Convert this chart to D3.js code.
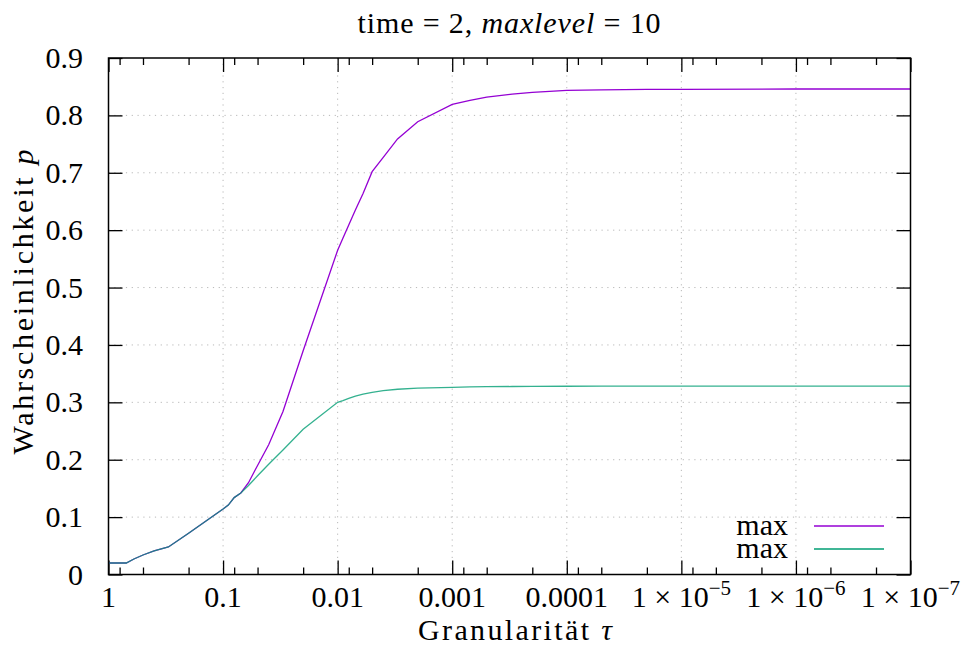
<!DOCTYPE html>
<html>
<head>
<meta charset="utf-8">
<script src="https://cdn.jsdelivr.net/npm/d3@7"></script>
<style>
  body { margin: 0; background: #fff; }
  text { font-family: "Liberation Serif", serif; fill: #000; }
  .axis path { display: none; }
  .axis line { stroke: #000; stroke-width: 1.3; }
  .grid line { stroke: #b8b8b8; stroke-width: 1; stroke-dasharray: 1.2, 4.6; }
</style>
</head>
<body>
<svg id="chart" width="966" height="646"></svg>
<script>
// granularity tau (x) and the two probability series
var tau = [1, 0.9, 0.8, 0.7, 0.6, 0.5, 0.4, 0.3, 0.2, 0.1,
           0.09, 0.08, 0.07, 0.06, 0.05, 0.04, 0.03, 0.02, 0.01,
           0.009, 0.008, 0.007, 0.006, 0.005, 0.004, 0.003, 0.002, 0.001,
           0.0007, 0.0005, 0.0003, 0.0002, 1e-4, 5e-5, 2e-5, 1e-5, 1e-6, 1e-7];
var maxA = [0.020, 0.020, 0.020, 0.020, 0.027, 0.034, 0.041, 0.048, 0.072, 0.114,
            0.121, 0.134, 0.142, 0.160, 0.190, 0.226, 0.284, 0.390, 0.565,
            0.586, 0.609, 0.635, 0.664, 0.702, 0.727, 0.759, 0.789, 0.819,
            0.826, 0.832, 0.837, 0.840, 0.8435, 0.8445, 0.8452, 0.8455, 0.846, 0.846];
var maxB = [0.020, 0.020, 0.020, 0.020, 0.027, 0.034, 0.041, 0.048, 0.072, 0.114,
            0.121, 0.134, 0.142, 0.155, 0.172, 0.192, 0.217, 0.253, 0.300,
            0.303, 0.307, 0.311, 0.3145, 0.3175, 0.3205, 0.3228, 0.3246, 0.3262,
            0.3268, 0.3272, 0.3276, 0.3278, 0.3280, 0.3281, 0.3282, 0.3283, 0.3284, 0.3284];

var xTicks = [1, 0.1, 0.01, 0.001, 1e-4, 1e-5, 1e-6, 1e-7];
var xTickBase = ["1", "0.1", "0.01", "0.001", "0.0001", "1 × 10", "1 × 10", "1 × 10"];
var xTickExp = ["", "", "", "", "", "−5", "−6", "−7"];
var yTicks = [0, 0.1, 0.2, 0.3, 0.4, 0.5, 0.6, 0.7, 0.8, 0.9];
var seriesNames = ["max", "max"];
var seriesColors = ["#9400d3", "#009e73"];

var pLeft = 108.5, pRight = 910.5, pTop = 58, pBottom = 574.5;
var fs = 30;

var svg = d3.select("#chart");

var x = d3.scaleLog().domain([1, 1e-7]).range([pLeft, pRight]);
var y = d3.scaleLinear().domain([0, 0.9]).range([pBottom, pTop]);

// minor ticks at 0.8, 0.5, 0.2 of each decade
var minor = [];
for (var d = 0; d < 7; d++) {
  [0.8, 0.5, 0.2].forEach(function(m) { minor.push(m * Math.pow(10, -d)); });
}

// grid
svg.append("g").attr("class", "grid")
   .selectAll("line").data(xTicks.slice(1, -1)).enter().append("line")
   .attr("x1", d => x(d)).attr("x2", d => x(d))
   .attr("y1", pTop).attr("y2", pBottom);
svg.append("g").attr("class", "grid")
   .selectAll("line").data(yTicks.slice(1, -1)).enter().append("line")
   .attr("x1", pLeft).attr("x2", pRight)
   .attr("y1", d => y(d)).attr("y2", d => y(d));

// ticks on all four sides, pointing inward
var bottomAxis = svg.append("g").attr("class", "axis").attr("transform", "translate(0," + pBottom + ")");
bottomAxis.call(d3.axisTop(x).tickValues(xTicks).tickSize(14).tickFormat(""));
bottomAxis.append("g").call(d3.axisTop(x).tickValues(minor).tickSize(7).tickFormat(""));
var topAxis = svg.append("g").attr("class", "axis").attr("transform", "translate(0," + pTop + ")");
topAxis.call(d3.axisBottom(x).tickValues(xTicks).tickSize(14).tickFormat(""));
topAxis.append("g").call(d3.axisBottom(x).tickValues(minor).tickSize(7).tickFormat(""));
svg.append("g").attr("class", "axis").attr("transform", "translate(" + pLeft + ",0)")
   .call(d3.axisRight(y).tickValues(yTicks).tickSize(14).tickFormat(""));
svg.append("g").attr("class", "axis").attr("transform", "translate(" + pRight + ",0)")
   .call(d3.axisLeft(y).tickValues(yTicks).tickSize(14).tickFormat(""));

// series lines
var pts = tau.map((t, i) => i);
var line = function(vals) {
  return d3.line().x(i => x(tau[i])).y(i => y(vals[i]))(pts);
};
[maxA, maxB].forEach(function(vals, k) {
  svg.append("path")
     .attr("d", line(vals))
     .attr("fill", "none")
     .attr("stroke", seriesColors[k])
     .attr("stroke-opacity", k == 1 ? 0.8 : 1)
     .attr("stroke-width", 1.3);
});

// border
svg.append("rect")
   .attr("x", pLeft).attr("y", pTop)
   .attr("width", pRight - pLeft).attr("height", pBottom - pTop)
   .attr("fill", "none").attr("stroke", "#000").attr("stroke-width", 1.5);

// y tick labels
svg.append("g").selectAll("text").data(yTicks).enter().append("text")
   .attr("x", 83).attr("y", d => y(d) + 10)
   .attr("text-anchor", "end").attr("font-size", fs)
   .text(d => d === 0 ? "0" : d.toFixed(1));

// x tick labels
var xl = svg.append("g").selectAll("text").data(xTicks).enter().append("text")
   .attr("x", d => x(d)).attr("y", 607)
   .attr("text-anchor", "middle").attr("font-size", fs);
xl.append("tspan").text((d, i) => xTickBase[i]);
xl.append("tspan").attr("dy", -12).attr("font-size", 21).text((d, i) => xTickExp[i]);

// titles
var t = svg.append("text").attr("x", 509).attr("y", 33).attr("text-anchor", "middle")
   .attr("font-size", fs).attr("textLength", 303).attr("lengthAdjust", "spacing");
t.append("tspan").text("time = 2, ");
t.append("tspan").attr("font-style", "italic").text("maxlevel");
t.append("tspan").text(" = 10");

var xt = svg.append("text").attr("x", 515).attr("y", 640).attr("text-anchor", "middle")
   .attr("font-size", fs).attr("textLength", 194).attr("lengthAdjust", "spacing");
xt.append("tspan").text("Granularität ");
xt.append("tspan").attr("font-style", "italic").text("τ");

var yt = svg.append("text").attr("transform", "translate(33,302) rotate(-90)")
   .attr("text-anchor", "middle").attr("font-size", fs)
   .attr("textLength", 305).attr("lengthAdjust", "spacing");
yt.append("tspan").text("Wahrscheinlichkeit ");
yt.append("tspan").attr("font-style", "italic").text("p");

// legend
var leg = svg.append("g").selectAll("g").data(seriesNames).enter().append("g")
   .attr("transform", (d, i) => "translate(0," + (526 + i * 23) + ")");
leg.append("text").attr("x", 788).attr("y", 9).attr("text-anchor", "end")
   .attr("font-size", fs).text(d => d);
leg.append("line").attr("x1", 814).attr("x2", 884)
   .attr("stroke", (d, i) => seriesColors[i]).attr("stroke-width", 1.3);
</script>
</body>
</html>
